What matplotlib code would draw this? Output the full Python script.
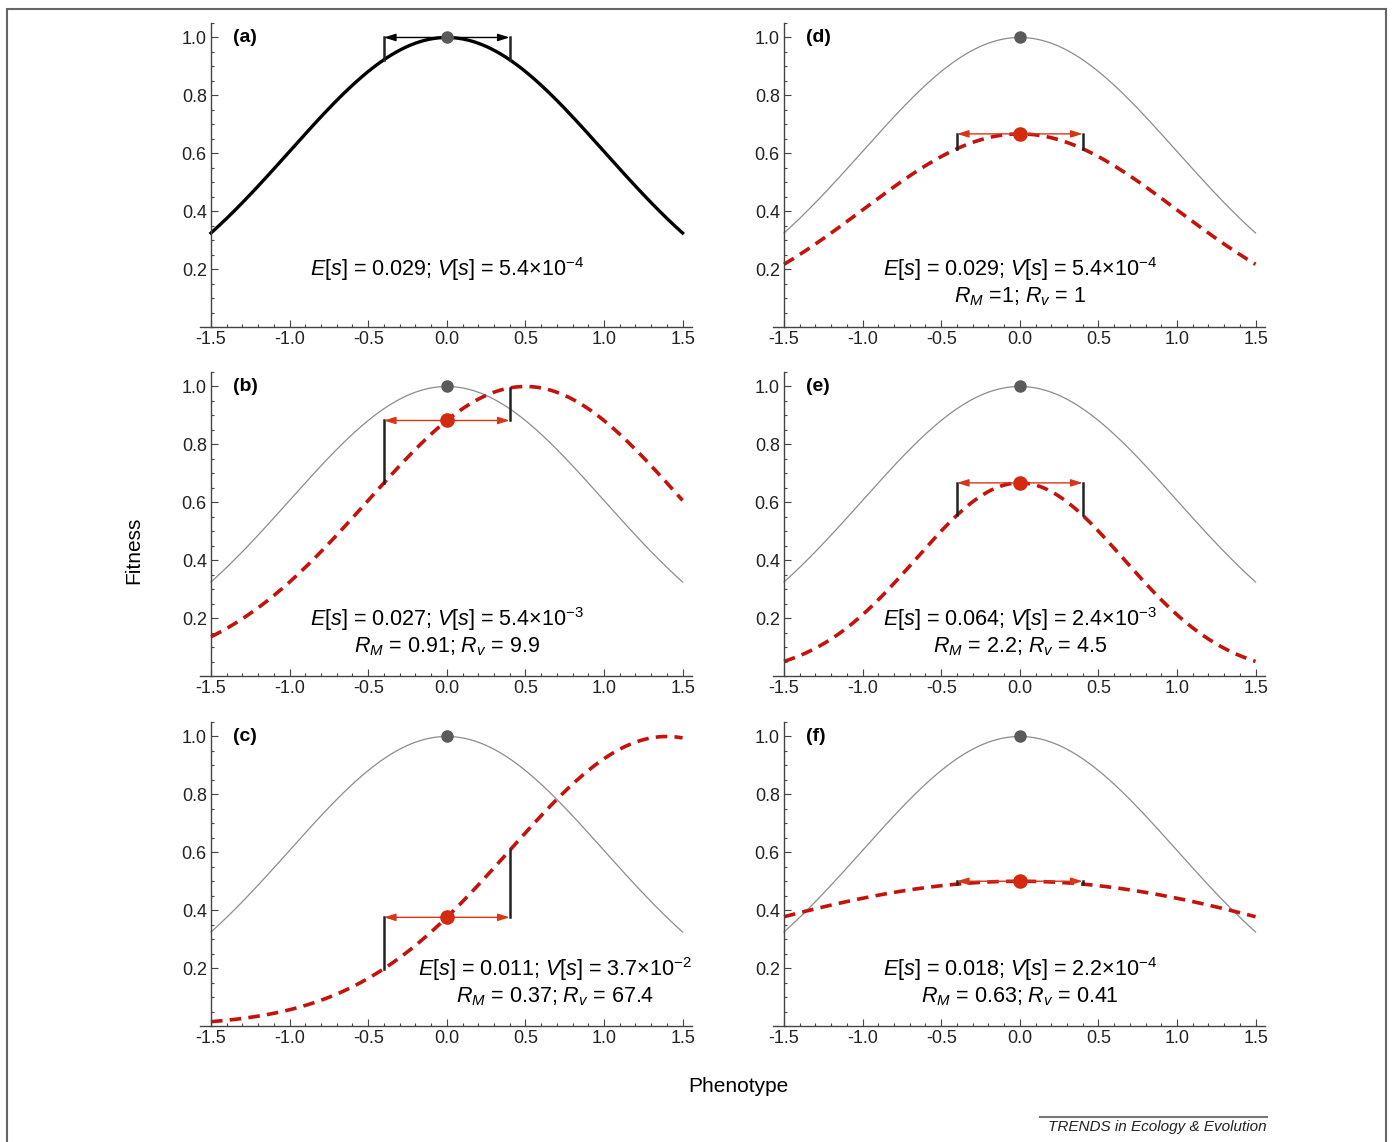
import numpy as np
import matplotlib
matplotlib.use('Agg')
from matplotlib import pyplot
from matplotlib.patches import Rectangle
from matplotlib.ticker import MultipleLocator, FixedLocator

# Panels: letter, peak height, optimum, width of the red (new) fitness curve
PANELS = ['(a)', '(b)', '(c)', '(d)', '(e)', '(f)']
PEAK = [1.0, 1.0, 1.0, 0.667, 0.667, 0.5]
OPTIMUM = [0.0, 0.5, 1.4, 0.0, 0.0, 0.0]
WIDTH = [1.0, 1.0, 1.0, 1.0, 0.66, 2.0]

# Reference (grey) curve
REF_PEAK = 1.0
REF_OPTIMUM = 0.0
REF_WIDTH = 1.0

# Phenotype spread shown by the brackets
HALF_SPREAD = 0.4

E_S = ['0.029', '0.027', '0.011', '0.029', '0.064', '0.018']
V_S = ['5.4', '5.4', '3.7', '5.4', '2.4', '2.2']
V_EXP = ['-4', '-3', '-2', '-4', '-3', '-4']
R_M = [None, '0.91', '0.37', '1', '2.2', '0.63']
R_V = [None, '9.9', '67.4', '1', '4.5', '0.41']

X_TICKS = [-1.5, -1.0, -0.5, 0.0, 0.5, 1.0, 1.5]
Y_TICKS = [0.2, 0.4, 0.6, 0.8, 1.0]

# Layout (figure pixels are 1394 x 1142)
FIG_W, FIG_H = 1394, 1142
COL_LEFT = [200, 773]
ROW_BOTTOM = [327, 676, 1026]
AX_W, AX_H = 492, 304
TEXT_X = [0.0, 0.0, 0.69, 0.0, 0.0, 0.0]

RED = '#c4120c'
ARROW_RED = '#d8361a'
GREY = '#8c8c8c'
DOT_GREY = '#5a5a5a'


def gauss(x, peak, opt, width):
    return peak * np.exp(-(x - opt) ** 2 / (2 * width ** 2))


def main():
    pyplot.rcParams['font.family'] = ['Liberation Sans', 'DejaVu Sans']
    pyplot.rcParams['mathtext.fontset'] = 'custom'
    pyplot.rcParams['mathtext.rm'] = 'Liberation Sans'
    pyplot.rcParams['mathtext.it'] = 'Liberation Sans:italic'
    pyplot.rcParams['mathtext.bf'] = 'Liberation Sans:bold'
    pyplot.rcParams['axes.unicode_minus'] = False

    figure = pyplot.figure(figsize=(FIG_W / 100, FIG_H / 100), dpi=100)
    xs = np.linspace(-1.5, 1.5, 400)

    for i, label in enumerate(PANELS):
        col = i // 3
        row = i % 3
        left = COL_LEFT[col] / FIG_W
        bottom = 1 - ROW_BOTTOM[row] / FIG_H
        axes = figure.add_axes([left, bottom, AX_W / FIG_W, AX_H / FIG_H])
        axes.set_xlim(-1.57, 1.56)
        axes.set_ylim(0, 1.05)

        for side in ['top', 'right']:
            axes.spines[side].set_visible(False)
        axes.spines['left'].set_position(('data', -1.5))
        axes.spines['bottom'].set_position(('data', 0))
        for side in ['left', 'bottom']:
            axes.spines[side].set_color('#444444')
            axes.spines[side].set_linewidth(1.0)

        axes.xaxis.set_major_locator(FixedLocator(X_TICKS))
        axes.xaxis.set_minor_locator(MultipleLocator(0.1))
        axes.yaxis.set_major_locator(FixedLocator(Y_TICKS))
        axes.yaxis.set_minor_locator(MultipleLocator(0.05))
        axes.set_xticklabels([f'{t:.1f}' for t in X_TICKS])
        axes.set_yticklabels([f'{t:.1f}' for t in Y_TICKS])
        axes.tick_params(which='both', direction='in', color='#444444', width=0.8)
        axes.tick_params(which='major', length=5, labelsize=13, labelcolor='#222222', pad=3)
        axes.tick_params(which='minor', length=2.5)

        ref = gauss(xs, REF_PEAK, REF_OPTIMUM, REF_WIDTH)
        cur = gauss(xs, PEAK[i], OPTIMUM[i], WIDTH[i])
        y0 = gauss(0.0, PEAK[i], OPTIMUM[i], WIDTH[i])
        y_lo = gauss(-HALF_SPREAD, PEAK[i], OPTIMUM[i], WIDTH[i])
        y_hi = gauss(HALF_SPREAD, PEAK[i], OPTIMUM[i], WIDTH[i])

        if i == 0:
            axes.plot(xs, cur, color='black', lw=2.4, zorder=2)
            arrow_color = 'black'
        else:
            axes.plot(xs, ref, color=GREY, lw=0.9, zorder=1)
            axes.plot(xs, cur, color=RED, lw=2.6, dashes=(3.2, 2.0), zorder=2)
            arrow_color = ARROW_RED

        # brackets
        axes.plot([-HALF_SPREAD, -HALF_SPREAD], [y_lo, y0], color='#222222', lw=1.8, zorder=3)
        axes.plot([HALF_SPREAD, HALF_SPREAD], [y_hi, y0], color='#222222', lw=1.8, zorder=3)
        axes.annotate('', xy=(HALF_SPREAD, y0), xytext=(-HALF_SPREAD, y0),
                      arrowprops=dict(arrowstyle='<|-|>,head_length=0.7,head_width=0.22',
                                      color=arrow_color, lw=1.0, shrinkA=0, shrinkB=0,
                                      mutation_scale=10), zorder=4)

        axes.plot([0], [REF_PEAK], 'o', color=DOT_GREY, ms=8, zorder=5)
        if i > 0:
            axes.plot([0], [y0], 'o', color='#d42a10', ms=9.5, zorder=5)

        axes.text(-1.36, 1.0, label, fontsize=14, fontweight='bold', ha='left', va='center')

        line1 = rf'$E$[$s$] = {E_S[i]}; $V$[$s$] = {V_S[i]}×10$^{{{V_EXP[i]}}}$'
        if R_M[i] is None:
            axes.text(TEXT_X[i], 0.2, line1, fontsize=15.5, ha='center', va='center')
        else:
            y1 = 0.2 if row == 0 else 0.195
            axes.text(TEXT_X[i], y1, line1, fontsize=15.5, ha='center', va='center')
            sep = ' =' if R_M[i] == '1' else ' = '
            line2 = rf'$R_M${sep}{R_M[i]}; $R_v$ = {R_V[i]}'
            axes.text(TEXT_X[i], y1 - 0.095, line2, fontsize=15.5, ha='center', va='center')

    figure.text(134 / FIG_W, 1 - 550 / FIG_H, 'Fitness', rotation=90, fontsize=15,
                ha='center', va='center')
    figure.text(738 / FIG_W, 1 - 1087 / FIG_H, 'Phenotype', fontsize=15,
                ha='center', va='center')
    figure.text(1267 / FIG_W, 1 - 1127 / FIG_H, 'TRENDS in Ecology & Evolution', fontsize=11,
                style='italic', ha='right', va='center', color='#222222')
    figure.add_artist(pyplot.Line2D([1040 / FIG_W, 1267 / FIG_W], [1 - 1117 / FIG_H] * 2,
                                    color='#777777', lw=1.5))
    figure.add_artist(Rectangle((7 / FIG_W, -0.05), 1379 / FIG_W, 1.05 - 9 / FIG_H,
                                transform=figure.transFigure, fill=False,
                                edgecolor='#666666', lw=1.5))

    figure.savefig('out.png', dpi=100)


if __name__ == '__main__':
    main()
